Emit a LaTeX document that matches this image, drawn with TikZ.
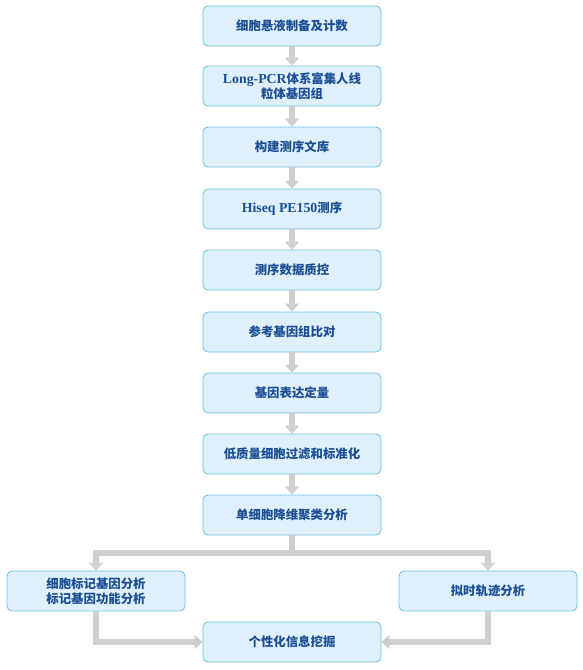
\documentclass[tikz,border=0pt]{standalone}
\usepackage{fontspec}
\setmainfont{Liberation Serif}
\newfontfamily\cjk{Noto Sans CJK SC}
\usetikzlibrary{arrows.meta}
\definecolor{boxfill}{HTML}{DFF0FA}
\definecolor{boxline}{HTML}{6CC0E5}
\definecolor{txt}{HTML}{1B4E94}
\definecolor{arr}{HTML}{CFCFCF}
\newcommand{\lat}[1]{{\rmfamily\bfseries\fontsize{13.8}{15}\selectfont #1}}
\tikzset{
  stepbox/.style={draw=boxline, fill=boxfill, line width=0.8pt, rounded corners=5pt,
    minimum width=178pt, minimum height=40pt, text=txt, align=center,
    font=\bfseries\fontsize{12.4}{15}\selectfont\cjk, inner sep=2pt},
  flow/.style={draw=arr, line width=5.5pt, -{Triangle[width=14pt,length=8pt]}},
  flowline/.style={draw=arr, line width=5.5pt}
}
\begin{document}
\begin{tikzpicture}[x=1pt,y=-1pt]
\useasboundingbox (0,0) rectangle (583,670);
\node[stepbox] (n1) at (292,26) {细胞悬液制备及计数};
\node[stepbox] (n2) at (292,86) {\lat{Long-PCR}体系富集人线\\粒体基因组};
\node[stepbox] (n3) at (292,147) {构建测序文库};
\node[stepbox] (n4) at (292,209) {\lat{Hiseq PE150}测序};
\node[stepbox] (n5) at (292,270) {测序数据质控};
\node[stepbox] (n6) at (292,332) {参考基因组比对};
\node[stepbox] (n7) at (292,393) {基因表达定量};
\node[stepbox] (n8) at (292,454) {低质量细胞过滤和标准化};
\node[stepbox] (n9) at (292,515) {单细胞降维聚类分析};
\node[stepbox] (l) at (96,591) {细胞标记基因分析\\标记基因功能分析};
\node[stepbox] (r) at (488,591) {拟时轨迹分析};
\node[stepbox] (f) at (292,642) {个性化信息挖掘};
\foreach \a/\b in {n1/n2,n2/n3,n3/n4,n4/n5,n5/n6,n6/n7,n7/n8,n8/n9}
  \draw[flow] (\a.south) -- (\b.north);
\coordinate (s) at (292,553);
\draw[flowline] (n9.south) -- (s);
\draw[flow] ([xshift=2.75pt]s) -| (l.north);
\draw[flow] ([xshift=-2.75pt]s) -| (r.north);
\draw[flow] (l.south) |- (f.west);
\draw[flow] (r.south) |- (f.east);
\end{tikzpicture}
\end{document}
